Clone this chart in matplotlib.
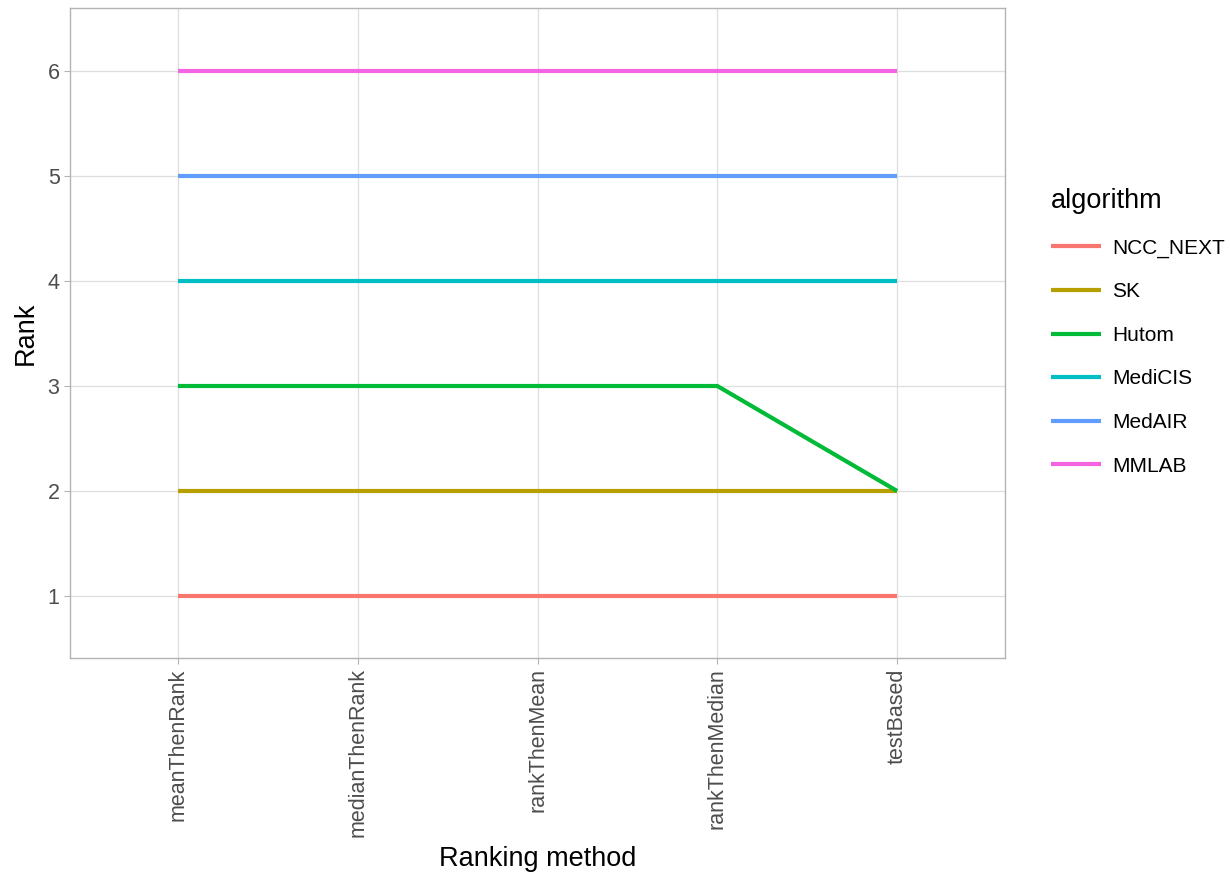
import matplotlib
matplotlib.use("Agg")
from matplotlib import pyplot as plt

plt.rcParams['font.family'] = ['Liberation Sans', 'DejaVu Sans']

methods = ['meanThenRank', 'medianThenRank', 'rankThenMean', 'rankThenMedian', 'testBased']
algorithms = ['NCC_NEXT', 'SK', 'Hutom', 'MediCIS', 'MedAIR', 'MMLAB']
colors = ['#F8766D', '#B79F00', '#00BA38', '#00BFC4', '#619CFF', '#F564E3']
ranks = {
    'NCC_NEXT': [1, 1, 1, 1, 1],
    'SK':       [2, 2, 2, 2, 2],
    'Hutom':    [3, 3, 3, 3, 2],
    'MediCIS':  [4, 4, 4, 4, 4],
    'MedAIR':   [5, 5, 5, 5, 5],
    'MMLAB':    [6, 6, 6, 6, 6],
}

fig = plt.figure(figsize=(12.3, 8.76), dpi=100)
ax = fig.add_axes([0.0569, 0.2489, 0.7602, 0.742])

x = list(range(len(methods)))
for alg, col in zip(algorithms, colors):
    ax.plot(x, ranks[alg], color=col, lw=3, label=alg, solid_capstyle='butt', zorder=3)

ax.set_xlim(-0.6, 4.6)
ax.set_ylim(0.41, 6.6)
ax.set_xticks(x)
ax.set_xticklabels(methods, rotation=90)
ax.set_yticks([1, 2, 3, 4, 5, 6])
ax.grid(True, color='#DEDEDE', lw=0.9, zorder=0)
ax.set_axisbelow(True)
for s in ax.spines.values():
    s.set_color('#B3B3B3')
    s.set_linewidth(1.0)
ax.tick_params(colors='#B3B3B3', labelcolor='#4D4D4D', labelsize=15.5, length=4)
ax.set_xlabel('Ranking method', fontsize=19.5, labelpad=6)
ax.set_ylabel('Rank', fontsize=19.5, labelpad=6)

leg = ax.legend(title='algorithm', loc='upper left', bbox_to_anchor=(0.848, 0.795),
                bbox_transform=fig.transFigure, frameon=False, fontsize=15,
                title_fontsize=19.5, handlelength=2.4, labelspacing=1.18, handletextpad=0.5,
                borderaxespad=0)
leg._legend_box.align = 'left'

fig.savefig('out.png', dpi=100)
